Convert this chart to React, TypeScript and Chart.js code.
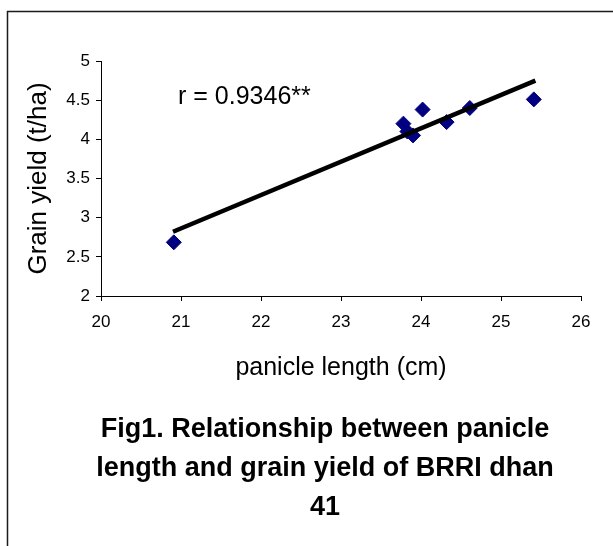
import React, { useEffect, useRef } from "react";
import { Chart, registerables } from "chart.js";

Chart.register(...registerables);

// Data
const panicleLength = [20.91, 23.78, 23.83, 23.9, 24.02, 24.32, 24.61, 25.41];
const grainYield = [2.685, 4.2, 4.1, 4.05, 4.38, 4.22, 4.4, 4.51];
const trendX = [20.9, 25.43];
const trendY = [2.82, 4.75];

const xTitle = "panicle length (cm)";
const yTitle = "Grain yield (t/ha)";
const rLabel = "r = 0.9346**";
const captionLines = [
  "Fig1. Relationship between panicle",
  "length and grain yield of BRRI dhan",
  "41",
];

const FONT = "'Liberation Sans', Arial, Helvetica, sans-serif";

export default function App() {
  const canvasRef = useRef<HTMLCanvasElement | null>(null);

  useEffect(() => {
    const canvas = canvasRef.current;
    if (!canvas) return;

    const overlay = {
      id: "overlay",
      beforeDraw(chart: any) {
        const ctx = chart.ctx;
        ctx.save();
        ctx.strokeStyle = "#1a1a1a";
        ctx.lineWidth = 1.5;
        ctx.beginPath();
        ctx.moveTo(7.5, 546);
        ctx.lineTo(7.5, 11.5);
        ctx.lineTo(613, 11.5);
        ctx.stroke();
        ctx.restore();
      },
      afterDraw(chart: any) {
        const ctx = chart.ctx;
        ctx.save();
        ctx.fillStyle = "#000";
        ctx.textBaseline = "alphabetic";
        ctx.textAlign = "left";
        ctx.font = `25px ${FONT}`;
        ctx.fillText(rLabel, 178, 104);
        ctx.textAlign = "center";
        ctx.font = `bold 27px ${FONT}`;
        const baselines = [437, 476, 515];
        captionLines.forEach((line, i) => {
          ctx.fillText(line, 325, baselines[i]);
        });
        ctx.restore();
      },
    };

    const chart = new Chart(canvas, {
      type: "scatter",
      data: {
        datasets: [
          {
            label: "trend",
            data: trendX.map((x, i) => ({ x, y: trendY[i] })),
            showLine: true,
            borderColor: "#000",
            borderWidth: 4.5,
            pointRadius: 0,
            fill: false,
            order: 0,
          } as any,
          {
            label: "yield",
            data: panicleLength.map((x, i) => ({ x, y: grainYield[i] })),
            pointStyle: "rectRot",
            pointRadius: 7.5,
            borderWidth: 1,
            backgroundColor: "#000080",
            borderColor: "#000080",
            order: 1,
          } as any,
        ],
      },
      options: {
        animation: false,
        responsive: false,
        devicePixelRatio: 1,
        layout: { padding: { left: 23, top: 61, right: 32, bottom: 163 } },
        plugins: {
          legend: { display: false },
          tooltip: { enabled: false },
        },
        scales: {
          x: {
            type: "linear",
            min: 20,
            max: 26,
            afterFit(scale: any) {
              scale.height = 87;
            },
            ticks: {
              stepSize: 1,
              color: "#000",
              padding: 11,
              font: { family: FONT, size: 17 },
              callback: (v: any) => String(v),
            },
            grid: {
              display: true,
              drawOnChartArea: false,
              drawTicks: true,
              tickLength: 5,
              color: "#000",
              lineWidth: 1,
            },
            border: { display: true, color: "#000", width: 1 },
            title: {
              display: true,
              text: xTitle,
              color: "#000",
              padding: 0,
              font: { family: FONT, size: 25 },
            },
          },
          y: {
            type: "linear",
            min: 2,
            max: 5,
            afterFit(scale: any) {
              scale.width = 78;
            },
            ticks: {
              stepSize: 0.5,
              color: "#000",
              padding: 6,
              font: { family: FONT, size: 17 },
              callback: (v: any) => String(v),
            },
            grid: {
              display: true,
              drawOnChartArea: false,
              drawTicks: true,
              tickLength: 5,
              color: "#000",
              lineWidth: 1,
            },
            border: { display: true, color: "#000", width: 1 },
            title: {
              display: true,
              text: yTitle,
              color: "#000",
              padding: 0,
              font: { family: FONT, size: 26 },
            },
          },
        },
      },
      plugins: [overlay],
    } as any);

    return () => chart.destroy();
  }, []);

  return (
    <div style={{ position: "absolute", left: 0, top: 0, width: 613, height: 546, background: "#fff" }}>
      <canvas ref={canvasRef} width={613} height={546} style={{ display: "block" }} />
    </div>
  );
}
